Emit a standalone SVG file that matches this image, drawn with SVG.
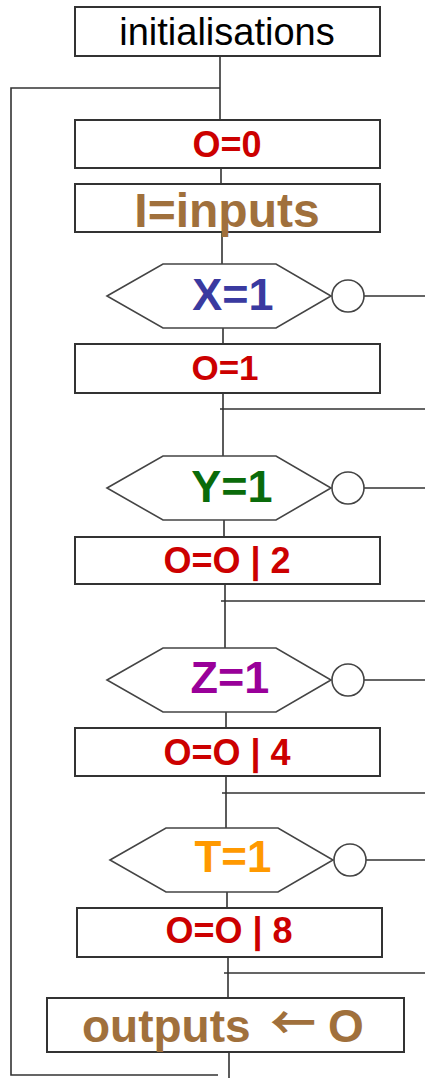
<svg xmlns="http://www.w3.org/2000/svg" width="425" height="1078" viewBox="0 0 425 1078">
  <defs>
    <style>
      .box { fill: #ffffff; stroke: #333333; stroke-width: 2; }
      .hex { fill: #ffffff; stroke: #444444; stroke-width: 1.6; }
      .neg { fill: #ffffff; stroke: #444444; stroke-width: 1.6; }
      .wire { fill: none; stroke: #333333; stroke-width: 1.6; }
      .t { font-family: "Liberation Sans", Arial, sans-serif; text-anchor: middle; }
      .b { font-weight: bold; }
      .red { fill: #cc0000; }
      .brown { fill: #a0703c; }
    </style>
  </defs>

  <!-- connectors -->
  <g id="connectors" class="wire">
    <!-- main trunk -->
    <path d="M220 56 V120 M221 168 V184 M222 232 V264 M223 328 V344 M223 393 V456 M224 520 V537 M225 584 V648 M226 712 V728 M226 776 V828 M227 892 V908 M228 957 V998 M229 1052 V1078"/>
    <!-- loop back to the top -->
    <path d="M218 1075 H11 V88 H220"/>
    <!-- false exits from each test -->
    <path d="M364 296 H425 M364 488 H425 M364 680 H425 M366 860 H425"/>
    <!-- join lines after each action -->
    <path d="M220 409 H425 M221 601 H425 M222 793 H425 M224 973 H425"/>
  </g>

  <g id="init">
    <rect class="box" x="75" y="7" width="305" height="49"/>
    <text class="t" x="227" y="45" font-size="38" fill="#000000">initialisations</text>
  </g>

  <g id="reset">
    <rect class="box" x="75" y="120" width="305" height="48"/>
    <text class="t b red" x="227" y="157" font-size="36">O=0</text>
  </g>

  <g id="read">
    <rect class="box" x="75" y="184" width="305" height="48"/>
    <text class="t b brown" x="227" y="227" font-size="48">I=inputs</text>
  </g>

  <g id="testX">
    <polygon class="hex" points="107,296 163,264 276,264 331,296 276,328 163,328"/>
    <circle class="neg" cx="348" cy="296" r="16"/>
    <text class="t b" x="233" y="310" font-size="45" fill="#3a3aa0">X=1</text>
  </g>

  <g id="setX">
    <rect class="box" x="75" y="344" width="305" height="49"/>
    <text class="t b red" x="225" y="380" font-size="35">O=1</text>
  </g>

  <g id="testY">
    <polygon class="hex" points="107,488 163,456 276,456 331,488 276,520 163,520"/>
    <circle class="neg" cx="348" cy="488" r="16"/>
    <text class="t b" x="232" y="502" font-size="45" fill="#0a6b0a">Y=1</text>
  </g>

  <g id="setY">
    <rect class="box" x="75" y="537" width="305" height="47"/>
    <text class="t b red" x="227" y="573" font-size="36">O=O | 2</text>
  </g>

  <g id="testZ">
    <polygon class="hex" points="107,680 163,648 276,648 331,680 276,712 163,712"/>
    <circle class="neg" cx="348" cy="680" r="16"/>
    <text class="t b" x="230" y="693" font-size="45" fill="#990099">Z=1</text>
  </g>

  <g id="setZ">
    <rect class="box" x="75" y="728" width="305" height="48"/>
    <text class="t b red" x="227" y="765" font-size="36">O=O | 4</text>
  </g>

  <g id="testT">
    <polygon class="hex" points="110,860 166,828 278,828 333,860 278,892 166,892"/>
    <circle class="neg" cx="350" cy="860" r="16"/>
    <text class="t b" x="233" y="872" font-size="44" fill="#ff9900">T=1</text>
  </g>

  <g id="setT">
    <rect class="box" x="77" y="908" width="305" height="49"/>
    <text class="t b red" x="229" y="943" font-size="36">O=O | 8</text>
  </g>

  <g id="write">
    <rect class="box" x="47" y="998" width="357" height="54"/>
    <text class="b brown" y="1042" font-size="46" font-family="'Liberation Sans', Arial, sans-serif"><tspan x="82">outputs</tspan><tspan x="270" font-family="'Noto Sans CJK JP', sans-serif" font-size="46" dy="-3">←</tspan><tspan x="328" dy="3">O</tspan></text>
  </g>
</svg>
